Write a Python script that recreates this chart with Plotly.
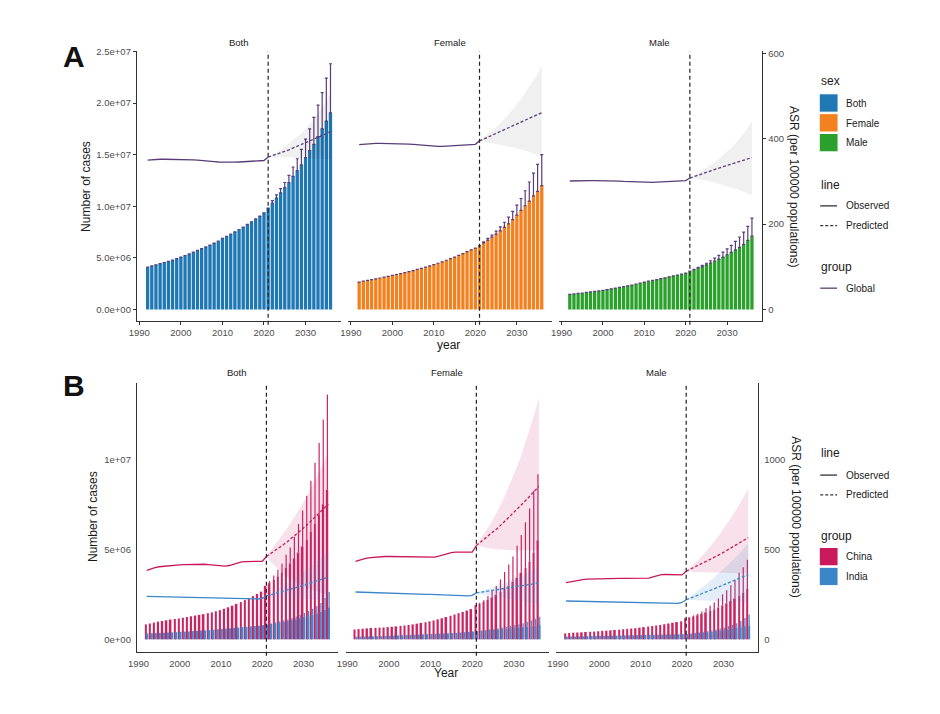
import plotly.graph_objects as go

# ---- data -------------------------------------------------------------
years = list(range(1992, 2037))        # bars
obs_years = list(range(1992, 2022))    # observed ASR
pred_years = list(range(2021, 2037))   # predicted ASR
sexes = ["Both", "Female", "Male"]

# Panel A: global number of cases (millions), 1992-2036
a_cases = {
    "Both": [4.10, 4.22, 4.33, 4.44, 4.55, 4.67, 4.79, 4.92, 5.08, 5.23,
             5.38, 5.55, 5.72, 5.89, 6.06, 6.24, 6.43, 6.62, 6.88, 7.08,
             7.30, 7.52, 7.75, 7.99, 8.24, 8.50, 8.77, 9.05, 9.36, 9.82,
             10.3, 10.8, 11.3, 11.8, 12.3, 12.9, 13.45, 14.0, 14.7, 15.4,
             16.0, 16.75, 17.5, 18.25, 19.05],
    "Female": [2.66, 2.74, 2.82, 2.89, 2.97, 3.05, 3.13, 3.21, 3.30, 3.39,
               3.48, 3.57, 3.67, 3.77, 3.88, 3.99, 4.10, 4.22, 4.35, 4.48,
               4.62, 4.77, 4.92, 5.08, 5.25, 5.42, 5.60, 5.78, 5.95, 6.18,
               6.45, 6.72, 7.0, 7.3, 7.62, 7.95, 8.3, 8.7, 9.15, 9.6,
               10.05, 10.5, 11.0, 11.45, 12.0],
    "Male": [1.47, 1.51, 1.56, 1.60, 1.65, 1.70, 1.75, 1.80, 1.86, 1.93,
             2.00, 2.07, 2.14, 2.21, 2.29, 2.37, 2.45, 2.55, 2.66, 2.74,
             2.82, 2.90, 2.99, 3.07, 3.16, 3.25, 3.34, 3.43, 3.52, 3.71,
             3.85, 4.0, 4.15, 4.32, 4.5, 4.68, 4.88, 5.08, 5.3, 5.53,
             5.77, 6.02, 6.3, 6.7, 7.1],
}
# upper bound of predicted cases (millions), 2022-2036
a_cases_upper = {
    "Both": [10.55, 11.1, 11.7, 12.3, 13.0, 13.8, 14.6, 15.5, 16.5, 17.5, 18.6, 19.8, 21.0, 22.4, 23.8],
    "Female": [6.55, 6.88, 7.2, 7.6, 8.0, 8.45, 8.95, 9.5, 10.1, 10.75, 11.5, 12.35, 13.2, 14.05, 15.0],
    "Male": [3.9, 4.08, 4.27, 4.48, 4.72, 4.98, 5.25, 5.55, 5.87, 6.22, 6.6, 7.02, 7.5, 8.05, 8.85],
}
# ASR (per 100000), observed 1992-2021
a_asr_obs = {
    "Both": [350, 351, 351.5, 352, 352, 352, 352, 351.5, 351.5, 351,
             351, 350.5, 350, 349.5, 348.5, 347.5, 346.5, 345.5, 345, 344.5,
             344.5, 345, 345.5, 346, 346.5, 347, 347.5, 348, 349, 357],
    "Female": [386, 387, 388, 388.5, 389, 389, 389, 389, 389, 389,
               388.5, 388, 387.5, 387, 386, 385, 384, 383, 382.5, 382,
               382, 382.5, 383, 383.5, 384, 385, 385.5, 386, 387, 395],
    "Male": [301, 301.5, 302, 302, 302, 302, 302, 302, 301.5, 301.5,
             301, 301, 300.5, 300, 299.5, 299, 298.5, 298, 298, 298,
             298, 298.5, 299, 299.5, 300, 300.5, 301, 301.5, 302, 308],
}
# ASR predicted 2021-2036 with interval
a_asr_pred = {
    "Both": [357, 360, 363.5, 367, 370.5, 374, 378, 382, 386, 390, 394, 398.5, 403, 407.5, 412, 417],
    "Female": [395, 399, 403.5, 408, 412.5, 417, 421.5, 426, 430.5, 435, 439.5, 444, 448.5, 452.5, 457, 461],
    "Male": [308, 311.5, 315, 318, 321.5, 325, 328, 331.5, 334.5, 337.5, 340.5, 343.5, 347, 350, 353, 356],
}
a_asr_upper = {
    "Both": [357, 362, 368, 374, 381, 388, 396, 404, 413, 423, 434, 446, 459, 474, 490, 507],
    "Female": [395, 402, 410, 418, 427, 436, 446, 457, 468, 480, 493, 507, 521, 537, 553, 571],
    "Male": [308, 313, 319, 325, 331, 338, 345, 353, 361, 370, 379, 389, 400, 412, 426, 441],
}
a_asr_lower = {
    "Both": [357, 358, 358, 358, 358, 357.5, 357, 356.5, 356, 355.5, 355, 354.5, 354, 353.5, 353, 352],
    "Female": [395, 394, 392, 390, 388, 386, 384, 382, 380, 377, 375, 372, 369, 366, 362, 358],
    "Male": [308, 307, 305.5, 304, 302, 300, 297.5, 295, 292, 289, 286, 283, 280, 276, 272, 268],
}

# Panel B: China / India number of cases (millions), 1992-2036
b_cases = {
    ("China", "Both"): [0.83, 0.88, 0.93, 0.98, 1.02, 1.06, 1.10, 1.13, 1.16, 1.20,
                        1.24, 1.28, 1.32, 1.36, 1.40, 1.45, 1.50, 1.56, 1.62, 1.70,
                        1.78, 1.87, 1.97, 2.07, 2.18, 2.29, 2.40, 2.52, 2.65, 2.97,
                        3.12, 3.3, 3.5, 3.72, 3.96, 4.22, 4.5, 4.82, 5.16, 5.54,
                        5.96, 6.42, 6.93, 7.5, 8.3],
    ("India", "Both"): [0.33, 0.34, 0.35, 0.36, 0.37, 0.38, 0.39, 0.40, 0.42, 0.43,
                        0.44, 0.46, 0.47, 0.49, 0.50, 0.52, 0.54, 0.56, 0.58, 0.60,
                        0.62, 0.64, 0.66, 0.68, 0.70, 0.72, 0.74, 0.76, 0.79, 0.82,
                        0.86, 0.9, 0.94, 0.98, 1.02, 1.07, 1.12, 1.17, 1.23, 1.29,
                        1.36, 1.44, 1.53, 1.64, 1.78],
    ("China", "Female"): [0.55, 0.57, 0.59, 0.61, 0.63, 0.64, 0.65, 0.66, 0.68, 0.70,
                          0.72, 0.74, 0.77, 0.80, 0.83, 0.87, 0.91, 0.95, 1.0, 1.05,
                          1.11, 1.17, 1.24, 1.31, 1.38, 1.45, 1.52, 1.6, 1.68, 1.9,
                          1.98, 2.08, 2.2, 2.33, 2.47, 2.63, 2.8, 2.99, 3.2, 3.43,
                          3.69, 3.98, 4.32, 4.8, 5.5],
    ("India", "Female"): [0.15, 0.155, 0.16, 0.165, 0.17, 0.175, 0.18, 0.19, 0.2, 0.21,
                          0.22, 0.23, 0.24, 0.25, 0.26, 0.27, 0.28, 0.29, 0.3, 0.31,
                          0.32, 0.33, 0.34, 0.35, 0.36, 0.38, 0.4, 0.42, 0.44, 0.46,
                          0.48, 0.5, 0.52, 0.54, 0.56, 0.58, 0.6, 0.62, 0.64, 0.66,
                          0.68, 0.7, 0.73, 0.76, 0.8],
    ("China", "Male"): [0.33, 0.35, 0.37, 0.38, 0.39, 0.41, 0.42, 0.43, 0.45, 0.47,
                        0.48, 0.50, 0.52, 0.54, 0.56, 0.58, 0.60, 0.62, 0.65, 0.68,
                        0.71, 0.74, 0.77, 0.80, 0.84, 0.88, 0.92, 0.96, 1.0, 1.18,
                        1.22, 1.28, 1.34, 1.42, 1.5, 1.58, 1.67, 1.77, 1.88, 2.0,
                        2.13, 2.27, 2.43, 2.6, 2.8],
    ("India", "Male"): [0.15, 0.155, 0.16, 0.165, 0.17, 0.175, 0.18, 0.185, 0.19, 0.195,
                        0.2, 0.205, 0.21, 0.215, 0.22, 0.225, 0.23, 0.235, 0.24, 0.245,
                        0.25, 0.255, 0.26, 0.265, 0.27, 0.275, 0.28, 0.285, 0.29, 0.30,
                        0.32, 0.34, 0.36, 0.38, 0.40, 0.43, 0.46, 0.49, 0.52, 0.55,
                        0.59, 0.63, 0.68, 0.73, 0.78],
}
b_cases_upper = {
    ("China", "Both"): [3.24, 3.55, 3.87, 4.2, 4.7, 5.1, 5.7, 6.4, 7.15, 7.97, 8.8, 9.8, 10.9, 12.2, 13.6],
    ("India", "Both"): [0.9, 0.95, 1.0, 1.06, 1.12, 1.19, 1.27, 1.36, 1.46, 1.57, 1.7, 1.85, 2.02, 2.3, 2.63],
    ("China", "Female"): [2.03, 2.17, 2.41, 2.69, 2.96, 3.33, 3.74, 4.15, 4.6, 5.2, 5.8, 6.5, 7.27, 8.25, 9.17],
    ("India", "Female"): [0.5, 0.53, 0.56, 0.59, 0.62, 0.66, 0.7, 0.74, 0.79, 0.84, 0.9, 0.97, 1.05, 1.14, 1.25],
    ("China", "Male"): [1.24, 1.33, 1.42, 1.55, 1.73, 1.87, 2.05, 2.27, 2.5, 2.73, 3.0, 3.3, 3.7, 4.0, 4.42],
    ("India", "Male"): [0.33, 0.36, 0.39, 0.42, 0.46, 0.5, 0.55, 0.6, 0.66, 0.73, 0.81, 0.9, 1.02, 1.18, 1.38],
}
b_asr_obs = {
    ("China", "Both"): [383, 392, 398, 403, 406, 409, 411, 413, 414, 415,
                        416, 417, 418, 418, 417, 415, 412, 410, 408, 407,
                        410, 418, 425, 430, 432, 433, 433, 433, 433, 460],
    ("India", "Both"): [239, 238.5, 238, 237, 236.5, 236, 235.5, 235, 234, 233.5,
                        233, 232.5, 232, 231.5, 231, 230.5, 230, 230, 230, 229.5,
                        228.5, 227, 225.5, 224, 223, 223, 223, 224, 228, 241],
    ("China", "Female"): [433, 441, 447, 452, 455, 458, 459, 460, 460, 460,
                          460, 459.5, 459, 458.5, 458, 457.5, 457, 456, 456, 457,
                          462, 470, 477, 482, 484, 484, 484, 484, 484, 521],
    ("India", "Female"): [263, 262, 261, 260, 259, 258, 257, 256, 255, 254,
                          254, 253, 253, 252, 252, 251, 251, 250, 250, 249,
                          248, 246, 245, 243.5, 242.5, 241.5, 241, 241, 244, 258],
    ("China", "Male"): [315, 320, 325, 329, 332, 334, 335, 336, 336.5, 337,
                        337.5, 338, 338, 338, 338, 338, 338, 338, 338, 338,
                        340, 347, 354, 359, 360, 360, 359, 358, 358, 378],
    ("India", "Male"): [213, 212.5, 212, 211.5, 211, 210.5, 210, 209.5, 209, 208.5,
                        208, 207.5, 207, 206.5, 206, 205.5, 205, 204.5, 204, 203.5,
                        203, 202.5, 202, 201.5, 201, 200.5, 200, 200, 205, 220],
}
b_asr_pred = {
    ("China", "Both"): [460, 475, 491, 507, 524, 541, 559, 578, 598, 618, 639, 661, 684, 707, 730, 751],
    ("India", "Both"): [241, 247, 253, 259.5, 266, 272.5, 279, 286, 293, 300, 307, 314.5, 322, 330, 338, 346],
    ("China", "Female"): [521, 539, 557, 576, 596, 616, 637, 659, 681, 704, 727, 751, 775, 799, 824, 849],
    ("India", "Female"): [258, 261.5, 265, 268.5, 272, 275.5, 279, 282.5, 286, 290, 294, 298, 302, 305.5, 309, 313],
    ("China", "Male"): [378, 389, 400, 411, 422, 434, 446, 458, 470, 483, 496, 509, 523, 537, 551, 565],
    ("India", "Male"): [220, 228.5, 237, 246, 255, 264, 273.5, 283, 292.5, 302, 312, 322, 331, 340.5, 350, 360],
}
b_asr_upper = {
    ("China", "Both"): [460, 490, 520, 551, 583, 616, 650, 686, 723, 762, 802, 845, 890, 937, 987, 1040],
    ("India", "Both"): [241, 254, 267, 281, 295, 310, 325, 341, 357, 374, 392, 410, 429, 449, 470, 492],
    ("China", "Female"): [521, 554, 589, 626, 666, 709, 755, 804, 857, 913, 973, 1037, 1106, 1179, 1257, 1340],
    ("India", "Female"): [258, 265, 272, 280, 288, 296, 305, 314, 323, 333, 343, 354, 365, 376, 388, 401],
    ("China", "Male"): [378, 398, 419.5, 442.5, 467, 493, 520.5, 549.5, 580, 612, 645.5, 680.5, 717, 755, 794.5, 835.5],
    ("India", "Male"): [220, 237, 254, 272, 290, 309, 328, 348, 368, 389, 411, 433, 456, 480, 506, 533],
}
b_asr_lower = {
    ("China", "Both"): [460, 432, 408, 386, 366, 348, 332, 318, 305, 293, 283, 274, 266, 259, 252, 246],
    ("India", "Both"): [241, 240, 238.5, 237, 235, 233, 231, 229, 227, 225, 223, 221, 219.5, 218, 217, 216],
    ("China", "Female"): [521, 515, 510, 506, 503, 500, 498, 496, 495, 494, 493, 493, 493, 494, 495, 497],
    ("India", "Female"): [258, 254, 250, 246, 242, 238, 234, 230, 226, 222, 218, 214, 209, 204, 199, 194],
    ("China", "Male"): [378, 376, 374, 372.5, 371, 370, 369, 368, 367.5, 367, 366.5, 366, 366, 365.5, 365.5, 365],
    ("India", "Male"): [220, 219, 218, 217, 216, 215, 214, 213, 212, 211, 210, 209, 208, 207, 206, 205],
}

a_left_ticks = [0, 5e6, 1e7, 1.5e7, 2e7, 2.5e7]
a_left_labels = ["0.0e+00", "5.0e+06", "1.0e+07", "1.5e+07", "2.0e+07", "2.5e+07"]
a_right_ticks = [0, 200, 400, 600]
b_left_ticks = [0, 5e6, 1e7]
b_left_labels = ["0e+00", "5e+06", "1e+07"]
b_right_ticks = [0, 500, 1000]
year_ticks = [1990, 2000, 2010, 2020, 2030]

# ---- style ------------------------------------------------------------
W, H = 940, 714
PAGE_PAD = 8   # the html body margin shifts the figure by this much
FONT = "Liberation Sans, Arial, sans-serif"
SEX_COLORS = {"Both": "#1F77B4", "Female": "#F4811F", "Male": "#2CA02C"}
GLOBAL_COLOR = "#5A3D78"
GROUP_COLORS = {"China": "#C9195B", "India": "#3B86C9"}
GROUP_FILL = {"China": "rgba(201,25,91,0.13)", "India": "rgba(59,134,201,0.15)"}
GREY_FILL = "rgba(0,0,0,0.06)"
AXIS_DARK = "#333333"


def fx(p):
    return (p - PAGE_PAD) / W


def fy(p):
    return 1 - (p - PAGE_PAD) / H


a_x_dom = [(129, 335), (342.6, 548.3), (555.3, 760.5)]
b_x_dom = [(129, 332.3), (339.7, 545), (552.4, 756.4)]
a_y_dom = (317.3, 45.7)
b_y_dom = (651, 380)

fig = go.Figure()

# ---- panel A ------------------------------------------------------------
for i, sex in enumerate(sexes):
    xa = "x" if i == 0 else "x%d" % (i + 1)
    n_obs = len(years) - len(a_cases_upper[sex])
    err = [0] * n_obs + [(u - c) * 1e6 for u, c in zip(a_cases_upper[sex], a_cases[sex][n_obs:])]
    fig.add_trace(go.Bar(
        x=years, y=[v * 1e6 for v in a_cases[sex]], xaxis=xa, yaxis="y",
        width=0.8, marker=dict(color=SEX_COLORS[sex], line=dict(width=0)),
        error_y=dict(type="data", symmetric=False, array=err, arrayminus=[0] * len(years),
                     color=GLOBAL_COLOR, thickness=1.2, width=1.5),
        showlegend=False, name=sex))
    fig.add_trace(go.Scatter(
        x=pred_years + pred_years[::-1],
        y=a_asr_upper[sex] + a_asr_lower[sex][::-1],
        xaxis=xa, yaxis="y2", fill="toself", fillcolor=GREY_FILL,
        line=dict(width=0), mode="lines", hoverinfo="skip", showlegend=False))
    fig.add_trace(go.Scatter(
        x=obs_years, y=a_asr_obs[sex], xaxis=xa, yaxis="y2", mode="lines",
        line=dict(color=GLOBAL_COLOR, width=1.3), showlegend=False))
    fig.add_trace(go.Scatter(
        x=pred_years, y=a_asr_pred[sex], xaxis=xa, yaxis="y2", mode="lines",
        line=dict(color=GLOBAL_COLOR, width=1.3, dash="3px,2px"), showlegend=False))

# ---- panel B ------------------------------------------------------------
bar_pos = {"China": (-0.42, 0.4), "India": (0.0, 0.42)}
for i, sex in enumerate(sexes):
    xa = "x%d" % (i + 4)
    for grp in ["China", "India"]:
        key = (grp, sex)
        n_obs = len(years) - len(b_cases_upper[key])
        err = [0] * n_obs + [(u - c) * 1e6 for u, c in zip(b_cases_upper[key], b_cases[key][n_obs:])]
        off, wid = bar_pos[grp]
        fig.add_trace(go.Bar(
            x=years, y=[v * 1e6 for v in b_cases[key]], xaxis=xa, yaxis="y3",
            offset=off, width=wid, opacity=0.95,
            marker=dict(color=GROUP_COLORS[grp], line=dict(width=0)),
            error_y=dict(type="data", symmetric=False, array=err, arrayminus=[0] * len(years),
                         color=GROUP_COLORS[grp], thickness=1.2, width=0),
            showlegend=False, name=grp))
    for grp in ["China", "India"]:
        key = (grp, sex)
        fig.add_trace(go.Scatter(
            x=pred_years + pred_years[::-1],
            y=b_asr_upper[key] + b_asr_lower[key][::-1],
            xaxis=xa, yaxis="y4", fill="toself", fillcolor=GROUP_FILL[grp],
            line=dict(width=0), mode="lines", hoverinfo="skip", showlegend=False))
    for grp in ["China", "India"]:
        key = (grp, sex)
        fig.add_trace(go.Scatter(
            x=obs_years, y=b_asr_obs[key], xaxis=xa, yaxis="y4", mode="lines",
            line=dict(color=GROUP_COLORS[grp], width=1.3), showlegend=False))
        fig.add_trace(go.Scatter(
            x=pred_years, y=b_asr_pred[key], xaxis=xa, yaxis="y4", mode="lines",
            line=dict(color=GROUP_COLORS[grp], width=1.3, dash="3px,2px"), showlegend=False))

# ---- axes ---------------------------------------------------------------
tick_font = dict(size=9.5, color="#4D4D4D", family=FONT)
base_axis = dict(showgrid=False, zeroline=False, showline=True, linecolor=AXIS_DARK,
                 linewidth=1, ticks="outside", ticklen=3, tickcolor=AXIS_DARK,
                 tickfont=tick_font, fixedrange=True)
layout_axes = {}
for i in range(3):
    name = "xaxis" if i == 0 else "xaxis%d" % (i + 1)
    layout_axes[name] = dict(base_axis, domain=[fx(a_x_dom[i][0]), fx(a_x_dom[i][1])],
                             range=[1989.4, 2038.5], anchor="y", tickvals=year_ticks)
    layout_axes["xaxis%d" % (i + 4)] = dict(base_axis, domain=[fx(b_x_dom[i][0]), fx(b_x_dom[i][1])],
                                            range=[1989.6, 2038.4], anchor="y3", tickvals=year_ticks,
                                            tickcolor="rgba(0,0,0,0)")
layout_axes["yaxis"] = dict(base_axis, domain=[fy(a_y_dom[0]), fy(a_y_dom[1])], anchor="x",
                            range=[-1.085e6, 2.5e7], tickvals=a_left_ticks, ticktext=a_left_labels)
layout_axes["yaxis2"] = dict(base_axis, overlaying="y", side="right", anchor="x3",
                             range=[-26.2, 604.6], tickvals=a_right_ticks)
layout_axes["yaxis3"] = dict(base_axis, domain=[fy(b_y_dom[0]), fy(b_y_dom[1])], anchor="x4",
                             range=[-0.68e6, 1.424e7], tickvals=b_left_ticks, ticktext=b_left_labels,
                             tickcolor="rgba(0,0,0,0)")
layout_axes["yaxis4"] = dict(base_axis, overlaying="y3", side="right", anchor="x6",
                             range=[-68, 1424], tickvals=b_right_ticks, tickcolor="rgba(0,0,0,0)")

# ---- shapes (2021 cut line, legend keys) ---------------------------------
shapes = []
for i in range(3):
    for xa, ya in [("x" if i == 0 else "x%d" % (i + 1), "y"), ("x%d" % (i + 4), "y3")]:
        shapes.append(dict(type="line", xref=xa, yref=ya + " domain", x0=2021, x1=2021, y0=-0.015, y1=1,
                           line=dict(color="#222222", width=1.2, dash="4px,3px")))

annotations = []


def text(s, x, y, size=10, color="#1A1A1A", xanchor="center", angle=0):
    annotations.append(dict(text=s, x=fx(x), y=fy(y), xref="paper", yref="paper", showarrow=False,
                            xanchor=xanchor, yanchor="middle", textangle=angle,
                            font=dict(size=size, color=color, family=FONT)))


def key_box(y0, color):
    shapes.append(dict(type="rect", xref="paper", yref="paper", x0=fx(818), x1=fx(837),
                       y0=fy(y0 + 18.5), y1=fy(y0), fillcolor=color, line=dict(color="white", width=1)))


def key_line(y, color, dash="solid"):
    shapes.append(dict(type="line", xref="paper", yref="paper", x0=fx(819), x1=fx(836),
                       y0=fy(y), y1=fy(y), line=dict(color=color, width=1.3, dash=dash)))


# legend A
text("sex", 818, 76, size=12, xanchor="left")
for k, sex in enumerate(sexes):
    key_box(88.5 + 20 * k, SEX_COLORS[sex])
    text(sex, 843, 98 + 20 * k, xanchor="left")
text("line", 818, 180, size=12, xanchor="left")
key_line(201.5, AXIS_DARK)
text("Observed", 843, 201.5, xanchor="left")
key_line(221.5, AXIS_DARK, "3px,2px")
text("Predicted", 843, 221.5, xanchor="left")
text("group", 818, 263, size=12, xanchor="left")
key_line(284.5, GLOBAL_COLOR)
text("Global", 843, 284.5, xanchor="left")

# legend B
text("line", 818, 451, size=12, xanchor="left")
key_line(473, AXIS_DARK)
text("Observed", 843, 473, xanchor="left")
key_line(493, AXIS_DARK, "3px,2px")
text("Predicted", 843, 493, xanchor="left")
text("group", 818, 534, size=12, xanchor="left")
for k, grp in enumerate(["China", "India"]):
    key_box(546 + 20 * k, GROUP_COLORS[grp])
    text(grp, 843, 555.5 + 20 * k, xanchor="left")

# facet strips, axis titles, panel tags
for sex, xa, xb in zip(sexes, [232.5, 445, 657], [230.5, 442, 654]):
    text(sex, xa, 36.5, size=9.5)
    text(sex, xb, 370, size=9.5)
text("Number of cases", 77, 182, size=12, angle=-90)
text("Number of cases", 84, 515, size=12, angle=-90)
text("ASR (per 100000 populations)", 793, 182, size=12, angle=90)
text("ASR (per 100000 populations)", 795, 515, size=12, angle=90)
text("year", 444, 342, size=12)
text("Year", 441, 673, size=12)
text("<b>A</b>", 66, 51, size=30, color="#111111")
text("<b>B</b>", 66, 383, size=30, color="#111111")

fig.update_layout(
    width=W, height=H, margin=dict(l=0, r=0, t=0, b=0),
    paper_bgcolor="white", plot_bgcolor="white",
    barmode="overlay", showlegend=False,
    font=dict(family=FONT, color="#1A1A1A"),
    shapes=shapes, annotations=annotations,
    **layout_axes,
)

fig.write_html("out.html")
